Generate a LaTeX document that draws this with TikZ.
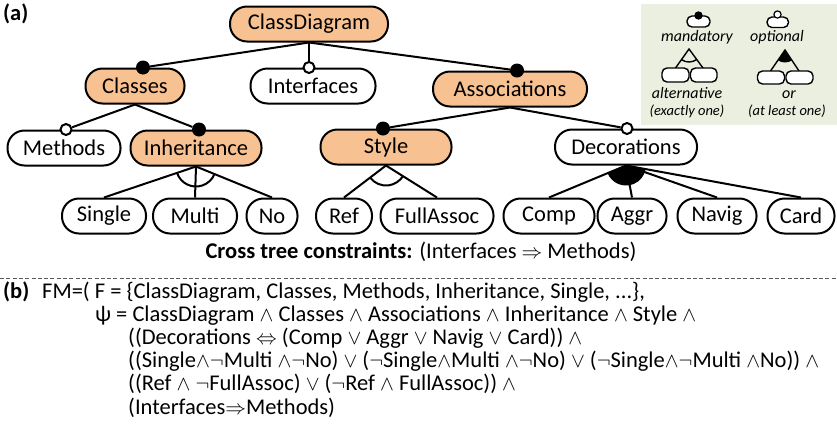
\documentclass[tikz,border=0pt]{standalone}
\usepackage{fontspec}
\setmainfont{Carlito}
\usetikzlibrary{calc}
\definecolor{peach}{RGB}{247,193,145}
\definecolor{legendbg}{RGB}{235,239,223}
% logic operators used in the formula
\newcommand\fmand{\ensuremath{\wedge}}
\newcommand\fmor{\ensuremath{\vee}}
\newcommand\fmnot{\ensuremath{\neg}}
\newcommand\fmiff{\ensuremath{\Leftrightarrow}}
\newcommand\fmimp{\ensuremath{\Rightarrow}}
\begin{document}
\begin{tikzpicture}[x=1pt,y=1pt,
  feat/.style={draw, line width=2pt, rounded corners=17pt, minimum height=35pt,
               inner sep=0pt, font=\fontsize{22.5}{26}\selectfont},
  core/.style={feat, fill=peach},
  conn/.style={line width=2pt},
  mand/.style={circle, fill=black, inner sep=0pt, minimum size=14pt},
  opt/.style={circle, draw, fill=white, line width=2pt, inner sep=0pt, minimum size=11pt},
  txt/.style={inner sep=0pt, text height=14pt, text depth=5pt, font=\fontsize{22.5}{26}\selectfont},
  ltxt/.style={inner sep=0pt, font=\fontsize{16}{19}\selectfont\itshape},
  lsmall/.style={inner sep=0pt, font=\fontsize{14.5}{17}\selectfont\itshape},
  micon/.style={draw, line width=1.4pt, rounded corners=5pt, fill=white},
  mline/.style={line width=1.4pt}]
\useasboundingbox (0,0) rectangle (837,-429);

% ---------- legend ----------
\fill[legendbg] (641,-4) rectangle (837,-125);
\draw[micon] (687,-27) rectangle (710,-16);
\fill (698.5,-15.5) circle (4.2);
\draw[micon] (767,-27.5) rectangle (788.5,-17);
\draw[line width=1.2pt, fill=white] (777.5,-14.5) circle (3.6);
\node[ltxt, anchor=base] (lmand) at (697,-41.5) {mandatory};
\node[ltxt, anchor=base] (lopt) at (777,-41.5) {optional};
% alternative icon
\draw[mline] (675.5,-68) -- (689,-49) -- (703,-68);
\draw[mline] (689,-49) ++(-125.4:13) arc[start angle=-125.4, end angle=-53.6, radius=13];
\draw[micon] (662,-82) rectangle (689,-68);
\draw[micon] (690.5,-82) rectangle (717,-68);
% or icon
\fill (785,-50) -- ++(-124.6:12.5) arc[start angle=-124.6, end angle=-56.3, radius=12.5] -- cycle;
\draw[mline] (770.5,-71) -- (785,-50) -- (799,-71);
\draw[micon] (757.5,-84) rectangle (784.5,-71);
\draw[micon] (786,-84) rectangle (813,-71);
\node[ltxt, anchor=base] (lalt) at (687,-98) {alternative};
\node[ltxt, anchor=base] (lor) at (789,-98) {or};
\node[lsmall, anchor=base] (laltn) at (687,-115) {(exactly one)};
\node[lsmall, anchor=base] (lorn) at (787,-115) {(at least one)};

% ---------- feature tree ----------
\node[txt, anchor=base west] (pa) at (3,-20) {\textbf{(a)}};

\node[core, minimum width=158pt] (CD) at (309,-24) {ClassDiagram};
\node[core, minimum width=99pt] (Classes) at (135,-86) {Classes};
\node[feat, minimum width=125pt] (Interfaces) at (313,-86) {Interfaces};
\node[core, minimum width=154pt] (Assoc) at (510,-89) {Associations};
\node[feat, minimum width=113pt] (Methods) at (64,-148) {Methods};
\node[core, minimum width=131pt] (Inh) at (196,-148) {Inheritance};
\node[core, minimum width=131pt] (Style) at (386,-147) {Style};
\node[feat, minimum width=142pt] (Deco) at (626,-147) {Decorations};

\node[feat, minimum width=84pt] (Single) at (104,-216) {Single};
\node[feat, minimum width=84pt] (Multi) at (195,-216) {Multi};
\node[feat, minimum width=51pt] (No) at (272,-216) {No};
\node[feat, minimum width=56pt] (Ref) at (344,-216) {Ref};
\node[feat, minimum width=113pt] (Full) at (437,-216) {FullAssoc};
\node[feat, minimum width=91pt] (Comp) at (549,-216) {Comp};
\node[feat, minimum width=69pt] (Aggr) at (632,-216) {Aggr};
\node[feat, minimum width=79pt] (Navig) at (717,-216) {Navig};
\node[feat, minimum width=67pt] (Card) at (801,-216) {Card};

% mandatory / optional markers on the child features
\node[mand] (cClasses) at ([xshift=8pt]Classes.north) {};
\node[opt]  (cInterfaces) at ([xshift=-4pt]Interfaces.north) {};
\node[mand] (cAssoc) at ([xshift=7pt]Assoc.north) {};
\node[opt]  (cMethods) at ([xshift=2pt]Methods.north) {};
\node[mand] (cInh) at ([xshift=3pt]Inh.north) {};
\node[mand] (cStyle) at ([xshift=-3pt]Style.north) {};
\node[opt]  (cDeco) at ([xshift=1pt]Deco.north) {};

\draw[conn] (CD.south) -- (cClasses);
\draw[conn] (CD.south) -- (cInterfaces);
\draw[conn] (CD.south) -- (cAssoc);
\draw[conn] (Classes.south) -- (cMethods);
\draw[conn] (Classes.south) -- (cInh);
\draw[conn] (Assoc.south) -- (cStyle);
\draw[conn] (Assoc.south) -- (cDeco);

% alternative group under Inheritance
\draw[conn] (Inh.south) -- (Single.north);
\draw[conn] (Inh.south) -- (Multi.north);
\draw[conn] (Inh.south) -- (No.north);
\draw[conn] let \p1=($(Single.north)-(Inh.south)$), \p2=($(No.north)-(Inh.south)$),
  \n1={atan2(\y1,\x1)}, \n2={atan2(\y2,\x2)} in
  (Inh.south) ++(\n1:20) arc[start angle=\n1, end angle=\n2, radius=20];

% alternative group under Style
\draw[conn] (Style.south) -- (Ref.north);
\draw[conn] (Style.south) -- (Full.north);
\draw[conn] let \p1=($(Ref.north)-(Style.south)$), \p2=($(Full.north)-(Style.south)$),
  \n1={atan2(\y1,\x1)}, \n2={atan2(\y2,\x2)} in
  (Style.south) ++(\n1:20) arc[start angle=\n1, end angle=\n2, radius=20];

% or group under Decorations
\fill let \p1=($(Comp.north)-(Deco.south)$), \p2=($(Card.north)-(Deco.south)$),
  \n1={atan2(\y1,\x1)}, \n2={atan2(\y2,\x2)} in
  (Deco.south) -- ++(\n1:20) arc[start angle=\n1, end angle=\n2, radius=20] -- cycle;
\draw[conn] (Deco.south) -- (Comp.north);
\draw[conn] (Deco.south) -- (Aggr.north);
\draw[conn] (Deco.south) -- (Navig.north);
\draw[conn] (Deco.south) -- (Card.north);

\node[txt, anchor=base] (ctc) at (421,-258)
  {\textbf{Cross tree constraints:} (Interfaces \fmimp{} Methods)};

% ---------- separator ----------
\draw[line width=0.9pt, black!65, dash pattern=on 4pt off 2.3pt] (0,-278) -- (837,-278);

% ---------- formula ----------
\node[txt, anchor=base west] (pb) at (3,-298) {\textbf{(b)}};
\node[txt, anchor=base west] (f1) at (42,-298)
  {FM=( F = \{ClassDiagram, Classes, Methods, Inheritance, Single, ...\},};
\node[txt, anchor=base west] (f2) at (95,-321.2)
  {ψ = ClassDiagram \fmand{} Classes \fmand{} Associations \fmand{} Inheritance \fmand{} Style \fmand};
\node[txt, anchor=base west] (f3) at (128,-344.4)
  {((Decorations \fmiff{} (Comp \fmor{} Aggr \fmor{} Navig \fmor{} Card)) \fmand};
\node[txt, anchor=base west] (f4) at (128,-367.6)
  {((Single\fmand\fmnot Multi \fmand\fmnot No) \fmor{} (\fmnot Single\fmand Multi \fmand\fmnot No) \fmor{} (\fmnot Single\fmand\fmnot Multi \fmand No)) \fmand};
\node[txt, anchor=base west] (f5) at (128,-390.8)
  {((Ref \fmand{} \fmnot FullAssoc) \fmor{} (\fmnot Ref \fmand{} FullAssoc)) \fmand};
\node[txt, anchor=base west] (f6) at (128,-414)
  {(Interfaces\fmimp Methods)};
\end{tikzpicture}
\end{document}
